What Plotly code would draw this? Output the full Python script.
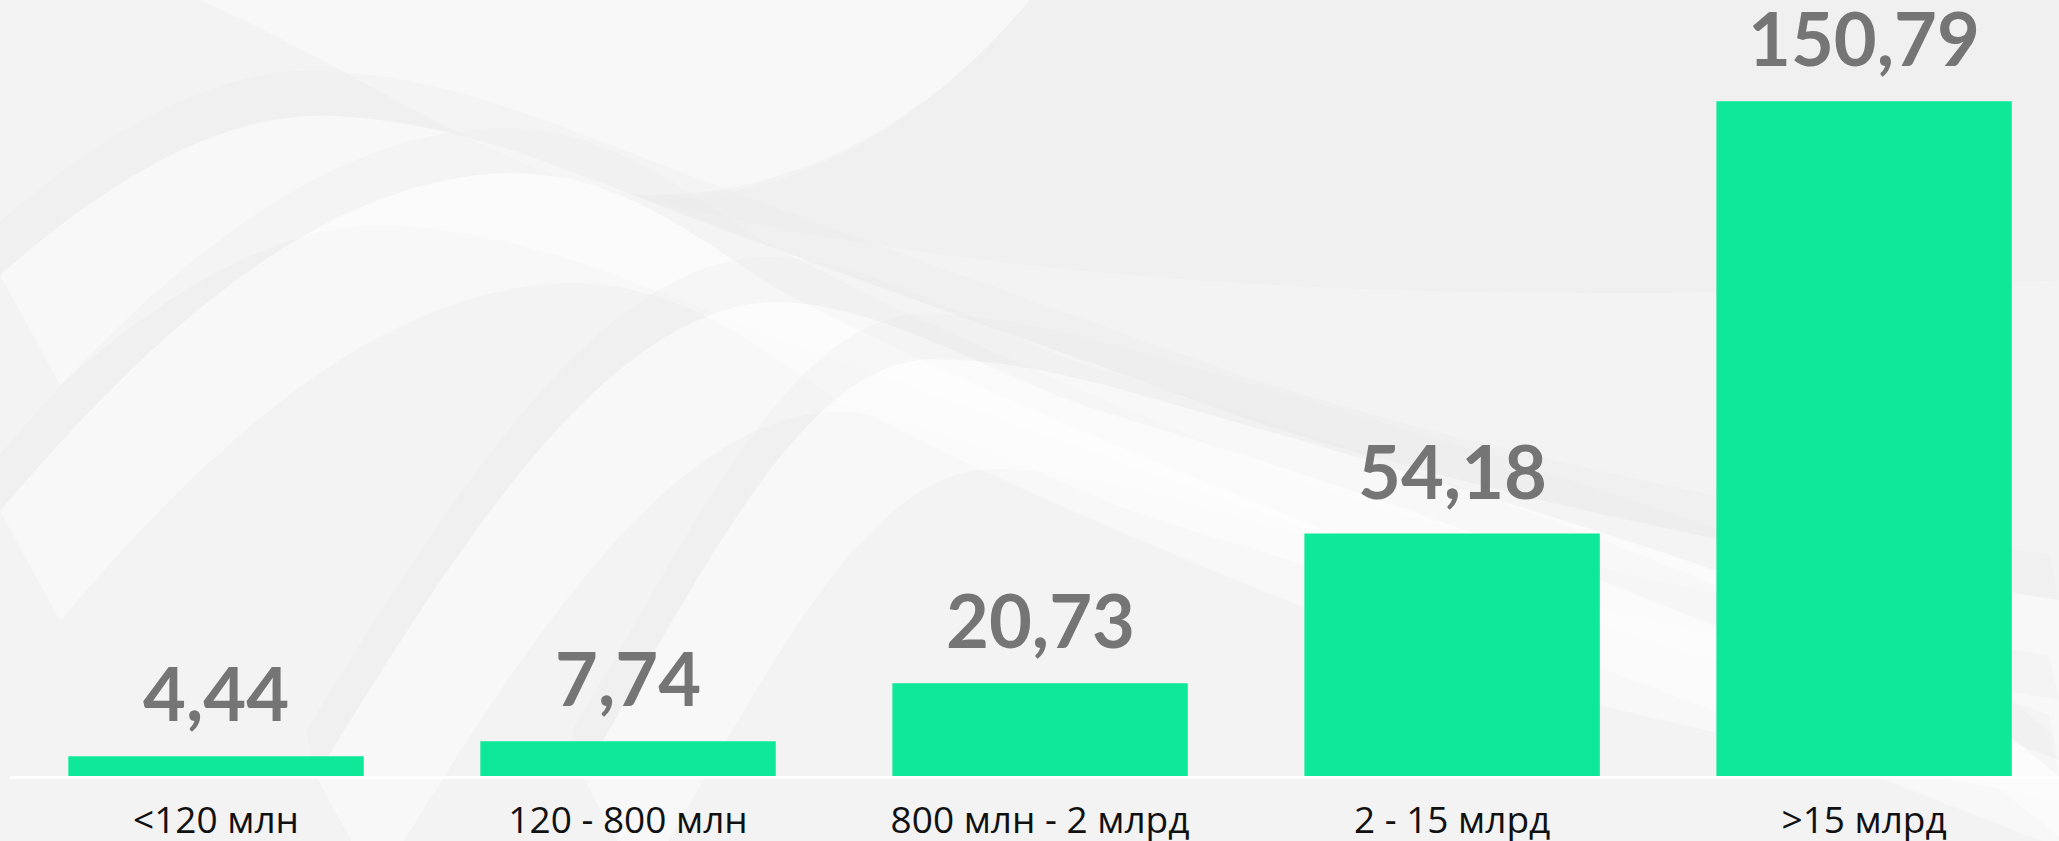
import plotly.graph_objects as go

categories = ["<120 млн", "120 - 800 млн", "800 млн - 2 млрд", "2 - 15 млрд", ">15 млрд"]
values = [4.44, 7.74, 20.73, 54.18, 150.79]
value_labels = ["4,44", "7,74", "20,73", "54,18", "150,79"]

BAR_COLOR = "#0ee899"
LABEL_COLOR = "#757575"

W, H = 2059, 841
ML, MB = 10, 65
PW, PH = W - ML, H - MB


def P(x, y):
    return f"{(x - ML) / PW:.4f},{(PH - y) / PH:.4f}"


def path(cmds):
    out = []
    for c, pts in cmds:
        out.append(c + " " + " ".join(P(*p) for p in pts))
    return " ".join(out) + " Z"


fig = go.Figure(
    go.Bar(
        x=categories,
        y=values,
        marker=dict(color=BAR_COLOR, line=dict(width=0)),
        width=0.717,
        hoverinfo="skip",
    )
)

for c, v, t in zip(categories, values, value_labels):
    fig.add_annotation(
        x=c, y=v, text=t, showarrow=False, yanchor="bottom", yshift=17,
        font=dict(family="Lato", size=74, color=LABEL_COLOR, weight="bold"),
    )

# ---- decorative background waves (pixel coords -> paper coords) ----
deco = []
deco.append((path([("M", [(200, 0)]), ("C", [(380, 80), (520, 190), (650, 195)]),
                   ("C", [(800, 195), (930, 120), (1030, 0)])]), "white", 0.45))
deco.append((path([("M", [(1030, 0)]), ("C", [(930, 120), (800, 200), (650, 200)]),
                   ("C", [(900, 260), (1300, 320), (2059, 280)]), ("L", [(2059, 0)])]), "#e9e9e9", 0.25))
humps = [
    [(0, 275), (120, 170), (230, 110), (337, 116), (450, 122), (540, 160), (618, 189),
     (800, 260), (1000, 330), (1250, 420), (1500, 500), (1800, 560), (2059, 600)],
    [(0, 511), (120, 370), (300, 180), (505, 173), (620, 170), (700, 240), (772, 286),
     (950, 380), (1150, 460), (1300, 520), (1450, 580), (1700, 640), (2059, 700)],
    [(316, 776), (450, 560), (600, 310), (772, 302), (880, 300), (1000, 380), (1100, 411),
     (1300, 470), (1500, 540), (1650, 600), (1800, 660), (1950, 720), (2059, 760)],
    [(582, 776), (700, 580), (800, 360), (933, 359), (1050, 360), (1150, 400), (1300, 440),
     (1500, 500), (1700, 560), (1850, 620), (1950, 680), (2000, 730), (2059, 776)],
]
for pts in humps:
    top = pts
    cmds = [("M", [top[0]])]
    for i in range(1, len(top) - 1, 3):
        cmds.append(("C", top[i:i + 3]))
    bottom = [(x + 60, y + 110) for (x, y) in reversed(top)]
    cmds.append(("L", [bottom[0]]))
    for i in range(1, len(bottom) - 1, 3):
        cmds.append(("C", bottom[i:i + 3]))
    deco.append((path(cmds), "white", 0.4))
    shade = [("M", [top[0]])]
    for i in range(1, len(top) - 1, 3):
        shade.append(("C", top[i:i + 3]))
    up = [(x - 10, y - 45) for (x, y) in reversed(top)]
    shade.append(("L", [up[0]]))
    for i in range(1, len(up) - 1, 3):
        shade.append(("C", up[i:i + 3]))
    deco.append((path(shade), "#e6e6e6", 0.2))

for p, col, op in deco:
    fig.add_shape(type="path", path=p, xref="paper", yref="paper",
                  fillcolor=col, opacity=op, line=dict(width=0), layer="below")

fig.update_layout(
    width=W, height=H,
    margin=dict(l=ML, r=0, t=0, b=MB, autoexpand=False),
    paper_bgcolor="#f3f3f3",
    plot_bgcolor="rgba(0,0,0,0)",
    showlegend=False,
)
fig.update_xaxes(
    range=[-0.5, 4.473],
    automargin=False,
    showgrid=False, zeroline=False,
    showline=True, linecolor="white", linewidth=3,
    ticks="", ticklabelstandoff=10,
    tickfont=dict(family="Open Sans", size=37, color="#111111"),
    fixedrange=True,
)
fig.update_yaxes(
    range=[0, 173.4], visible=False, showgrid=False, zeroline=False, fixedrange=True,
)

fig.write_html(
    "out.html",
    config={"displayModeBar": False},
    post_script="document.body.style.margin='0';document.body.style.background='#f3f3f3';",
)
